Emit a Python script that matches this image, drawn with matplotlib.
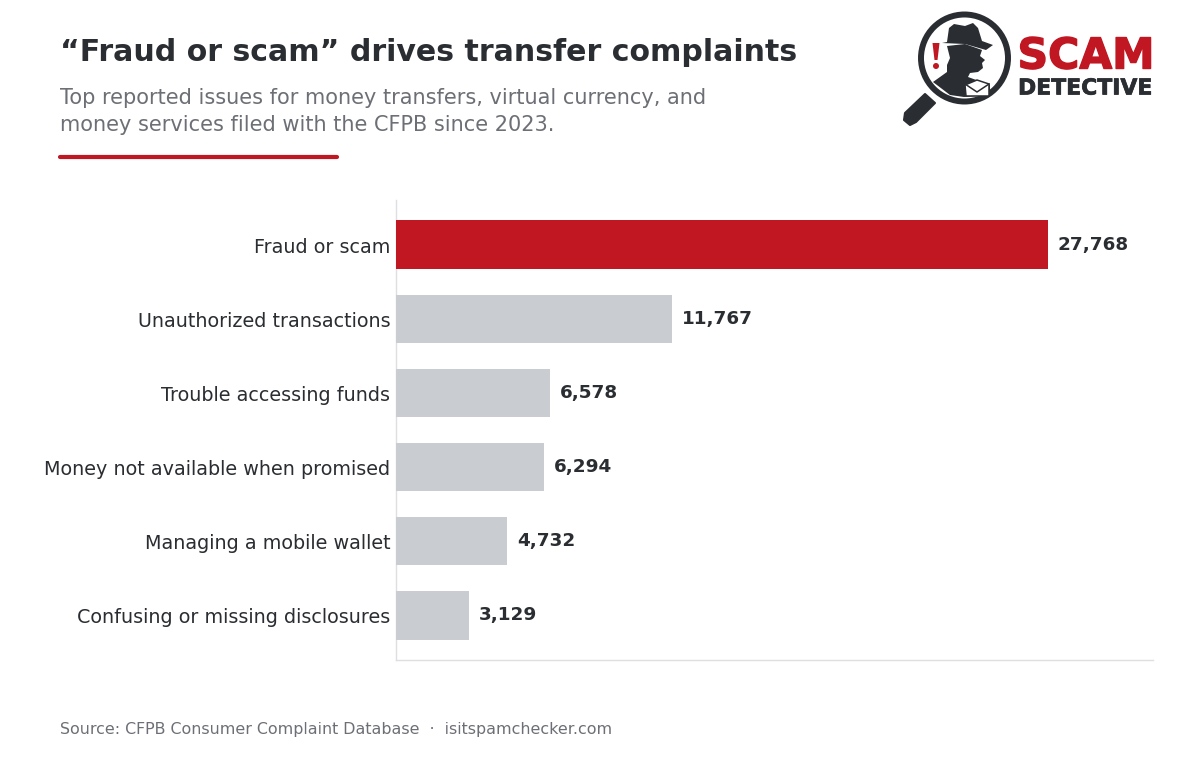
import matplotlib
matplotlib.use("Agg")
import matplotlib.pyplot as plt
import matplotlib.patheffects as pe
from matplotlib.patches import Circle, Polygon
from matplotlib.transforms import ScaledTranslation

categories = ["Fraud or scam", "Unauthorized transactions", "Trouble accessing funds",
              "Money not available when promised", "Managing a mobile wallet",
              "Confusing or missing disclosures"]
values = [27768, 11767, 6578, 6294, 4732, 3129]
title = "“Fraud or scam” drives transfer complaints"
subtitle = ["Top reported issues for money transfers, virtual currency, and",
            "money services filed with the CFPB since 2023."]
source = "Source: CFPB Consumer Complaint Database  ·  isitspamchecker.com"

RED = "#C01722"; GREY = "#C9CCD0"; DARK = "#2A2D31"; MUTED = "#6C6F75"; AXIS = "#DDDFE2"
W, H = 1200, 768
plt.rcParams["font.family"] = "DejaVu Sans"
fig = plt.figure(figsize=(W/100, H/100), dpi=100, facecolor="white")

ax = fig.add_axes([396/W, 1-660/H, 757/W, 460/H])
colors = [RED] + [GREY]*(len(values)-1)
ax.barh(range(len(values)), values, height=0.65, color=colors, linewidth=0, zorder=3)
ax.set_xlim(0, 32240)
ax.set_ylim(5.6, -0.6)
ax.set_yticks(range(len(values)), categories)
ax.set_xticks([])
ax.tick_params(axis="y", length=0, pad=4.2, labelsize=13.8, labelcolor=DARK)
shift = ScaledTranslation(0, -0.5/100, fig.dpi_scale_trans)
for lab in ax.get_yticklabels():
    lab.set_transform(lab.get_transform() + shift)
for s in ("top", "right"):
    ax.spines[s].set_visible(False)
for s in ("left", "bottom"):
    ax.spines[s].set_color(AXIS)
    ax.spines[s].set_linewidth(1.0)
for i, v in enumerate(values):
    ax.annotate(f"{v:,}", (v, i), xytext=(7, 0), textcoords="offset points",
                va="center", ha="left", fontsize=13.2, fontweight="bold", color=DARK)

ov = fig.add_axes([0, 0, 1, 1], facecolor="none")
ov.set_xlim(0, W); ov.set_ylim(H, 0); ov.axis("off")
ov.text(60, 52.7, title, fontsize=21.6, fontweight="bold", color=DARK, va="center", ha="left")
ov.text(60, 98, subtitle[0], fontsize=15, color=MUTED, va="center", ha="left")
ov.text(60, 125, subtitle[1], fontsize=15, color=MUTED, va="center", ha="left")
ov.plot([60, 337], [157, 157], color=RED, lw=3, solid_capstyle="round")
ov.text(60, 729.5, source, fontsize=11.4, color=MUTED, va="center", ha="left")

# logo
ov.add_patch(Circle((964.5, 58), 43.5, fill=False, ec=DARK, lw=4.3))
ov.add_patch(Polygon([(925, 94), (935, 103), (916, 122), (910, 125), (904, 120), (905, 113)],
                     closed=True, fc=DARK, ec=DARK, lw=1.5, joinstyle="round"))
ov.add_patch(Polygon([(947, 42), (949, 28), (954, 24), (965, 26), (973, 23), (978, 28),
                      (982, 41), (993, 45), (986, 50), (965, 44), (942, 43)],
                     closed=True, fc=DARK, ec="none"))
ov.add_patch(Polygon([(947, 46), (965, 44), (982, 50), (980, 56), (985, 60), (982, 63),
                      (983, 68), (978, 72), (970, 73), (968, 77), (990, 85), (990, 95),
                      (964, 97), (950, 95), (933, 82), (947, 72), (947, 65), (950, 58)],
                     closed=True, fc=DARK, ec="none"))
ov.add_patch(Polygon([(965, 85), (977, 80), (989, 84), (989, 96), (966, 96)],
                     closed=True, fc="white", ec=DARK, lw=1.1))
ov.plot([965, 977, 989], [84, 92, 84], color=DARK, lw=1.1)
ov.add_patch(Polygon([(932.5, 43), (939.5, 43), (937.5, 60), (934.5, 60)], closed=True, fc=RED, ec="none"))
ov.add_patch(Circle((936, 66), 3, fc=RED, ec="none"))
ov.text(1017.5, 68.5, "SCAM", fontsize=30.6, fontweight="bold", color=RED, va="baseline", ha="left",
        path_effects=[pe.withStroke(linewidth=1.0, foreground=RED)])
ov.text(1018, 94.5, "DETECTIVE", fontsize=15.8, fontweight="bold", color=DARK, va="baseline", ha="left",
        path_effects=[pe.withStroke(linewidth=0.5, foreground=DARK)])

fig.savefig("out.png", dpi=100, facecolor="white")
